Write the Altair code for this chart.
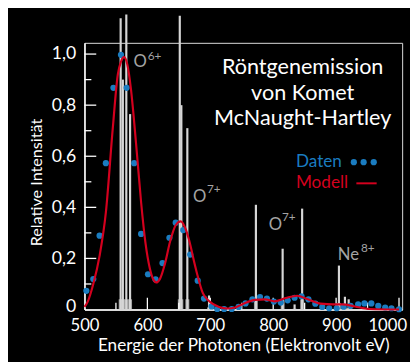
import altair as alt
import pandas as pd

# ---- data ----
data_E = [503, 514, 524, 534, 546, 558, 567, 579, 590, 601, 613, 624, 635, 645,
          657, 668, 680, 690, 702, 711, 722, 734, 745, 756, 767, 779, 790, 801,
          812, 823, 834, 845, 856, 867, 878, 889, 901, 912, 923, 935, 945, 956,
          967, 978, 988, 1000]
data_I = [0.073, 0.119, 0.289, 0.573, 0.868, 0.997, 0.868, 0.573, 0.296, 0.138,
          0.118, 0.182, 0.281, 0.340, 0.311, 0.215, 0.113, 0.043, 0.012, 0.002,
          0.002, 0.002, 0.010, 0.024, 0.040, 0.049, 0.043, 0.031, 0.027, 0.036,
          0.046, 0.052, 0.040, 0.023, 0.010, 0.005, 0.005, 0.011, 0.014, 0.020,
          0.024, 0.024, 0.014, 0.008, 0.005, 0.001]

model_E = [500, 505, 514, 524, 534, 545, 553, 558, 563, 568, 574, 582, 590, 597,
           604, 610, 614, 620, 628, 636, 645, 653, 660, 667, 674, 679, 688, 698,
           714, 727, 740, 750, 760, 771, 787, 802, 820, 838, 855, 875, 896, 910,
           930, 953, 1000]
model_I = [0.01, 0.03, 0.10, 0.21, 0.38, 0.71, 0.92, 0.97, 0.988, 0.96, 0.86,
           0.65, 0.42, 0.26, 0.16, 0.115, 0.106, 0.12, 0.18, 0.265, 0.33, 0.345,
           0.32, 0.265, 0.19, 0.14, 0.065, 0.033, 0.01, 0.004, 0.008, 0.02, 0.03,
           0.038, 0.04, 0.032, 0.045, 0.054, 0.04, 0.023, 0.02, 0.02, 0.012,
           0.002, 0.0]

line_E = [557.5, 561, 566.5, 572.5, 651.5, 654, 663.5, 698, 772.5, 815, 834,
          846, 904.5, 914, 920]
line_I = [1.14, 0.9, 1.155, 0.765, 1.15, 0.8, 0.71, 0.055, 0.41, 0.238, 0.02,
          0.395, 0.172, 0.05, 0.04]

x_labels = [500, 600, 700, 800, 900, 1000]
x_minor = [550, 650, 750, 850, 950]
y_labels = [0, 0.2, 0.4, 0.6, 0.8, 1.0]
y_minor = [0.1, 0.3, 0.5, 0.7, 0.9]
y_major = [0.2, 0.4, 0.6, 0.8, 1.0]

title_lines = ["Röntgenemission", "von Komet", "McNaught-Hartley"]

FONT = "Lato"
W, H = 324, 272
BLUE = "#1a7cc0"
RED = "#d4001e"
GRAY = "#a4a4a4"

xs = alt.Scale(domain=[500, 1005], nice=False, zero=False)
ys = alt.Scale(domain=[0, 1.044], nice=False, zero=True)

dots = pd.DataFrame({"E": data_E, "I": data_I})
model = pd.DataFrame({"E": model_E, "I": model_I})
lines = pd.DataFrame({"E": line_E, "I": line_I})
one = pd.DataFrame({"a": [0]})

x_axis = alt.Axis(values=x_labels, format="d", labelFontSize=17, labelColor="white",
                  labelFont=FONT, labelPadding=8, labelFlush=False, ticks=False, grid=False,
                  domainColor="white", domainWidth=1.5,
                  labelOffset={"condition": {"test": "datum.value === 1000", "value": -12}, "value": 0},
                  title="Energie der Photonen (Elektronvolt eV)", titleColor="white",
                  titleFont=FONT, titleFontSize=17.5, titleFontWeight="normal",
                  titleX=162, titleY=41.5, titleAlign="center", titleBaseline="alphabetic")
y_axis = alt.Axis(values=y_labels,
                  labelExpr="datum.value == 0 ? '0' : replace(format(datum.value, '.1f'), '.', ',')",
                  labelFontSize=18, labelColor="white", labelFont=FONT, labelPadding=9,
                  labelOffset={"condition": {"test": "datum.value === 0", "value": -3}, "value": 0},
                  labelFlush=False, ticks=False, grid=False, domainColor="white", domainWidth=1.5,
                  title="Relative Intensität", titleColor="white", titleFont=FONT,
                  titleFontSize=16.5, titleFontWeight="normal", titleAngle=270,
                  titleX=-44, titleY=142, titleAlign="center", titleBaseline="alphabetic")

base = alt.Chart(lines).transform_calculate(b="min(datum.I * 0.15, 0.04)")
spikes_base = base.mark_rule(color="#cfcfcf", strokeWidth=4, opacity=0.75).encode(
    x=alt.X("E:Q", scale=xs, axis=x_axis), y=alt.Y("b:Q", scale=ys, axis=y_axis), y2=alt.datum(0))
spikes = alt.Chart(lines).mark_rule(color="#d6d6d6", strokeWidth=2.2).encode(
    x=alt.X("E:Q", scale=xs), y=alt.Y("I:Q", scale=ys), y2=alt.datum(0))

ytick_major = alt.Chart(pd.DataFrame({"v": y_major})).mark_rule(color="white", strokeWidth=1.3).encode(
    y=alt.Y("v:Q", scale=ys), x=alt.value(0), x2=alt.value(12))
ytick_minor = alt.Chart(pd.DataFrame({"v": y_minor})).mark_rule(color="white", strokeWidth=1.3).encode(
    y=alt.Y("v:Q", scale=ys), x=alt.value(0), x2=alt.value(7))
xtick_major = alt.Chart(pd.DataFrame({"v": x_labels[1:]})).mark_rule(color="white", strokeWidth=1.3).encode(
    x=alt.X("v:Q", scale=xs), y=alt.value(H), y2=alt.value(H - 12))
xtick_minor = alt.Chart(pd.DataFrame({"v": x_minor})).mark_rule(color="white", strokeWidth=1.3).encode(
    x=alt.X("v:Q", scale=xs), y=alt.value(H), y2=alt.value(H - 7))

pts = alt.Chart(dots).mark_circle(color=BLUE, size=40, opacity=1).encode(
    x=alt.X("E:Q", scale=xs), y=alt.Y("I:Q", scale=ys))
curve = alt.Chart(model).mark_line(color=RED, strokeWidth=2.2, interpolate="monotone").encode(
    x=alt.X("E:Q", scale=xs), y=alt.Y("I:Q", scale=ys))


def txt(s, x, y, size, color, align="left"):
    return alt.Chart(one).mark_text(font=FONT, fontSize=size, color=color, align=align,
                                    baseline="alphabetic").encode(
        x=alt.value(x), y=alt.value(y), text=alt.value(s))


annos = [
    txt("O", 50, 25, 17, GRAY), txt("6+", 64.5, 17.3, 12, GRAY),
    txt("O", 110.7, 162.7, 17, GRAY), txt("7+", 125, 152.7, 12, GRAY),
    txt("O", 188, 190.7, 17, GRAY), txt("7+", 201.5, 181.7, 12, GRAY),
    txt("Ne", 258.3, 221.7, 17, GRAY), txt("8+", 282, 213, 12, GRAY),
    txt(title_lines[0], 222.5, 32.3, 22, "white", "center"),
    txt(title_lines[1], 222.5, 58.3, 22, "white", "center"),
    txt(title_lines[2], 222.5, 84.3, 22, "white", "center"),
    txt("Daten", 215.7, 126.7, 17.5, BLUE),
    txt("Modell", 215.7, 148.3, 17.5, RED),
]

leg_dots = [alt.Chart(one).mark_circle(color=BLUE, size=40, opacity=1).encode(
    x=alt.value(px), y=alt.value(121.7)) for px in (274.7, 284.7, 295)]
leg_line = alt.Chart(one).mark_rule(color=RED, strokeWidth=2).encode(
    x=alt.value(277.3), x2=alt.value(298), y=alt.value(143.3))

chart = alt.layer(
    spikes_base, spikes, ytick_major, ytick_minor, xtick_major, xtick_minor,
    pts, curve, *annos, *leg_dots, leg_line
).properties(
    width=W, height=H,
    autosize=alt.AutoSizeParams(type="none"),
    padding={"left": 78, "top": 32, "right": 8, "bottom": 50},
    background="black",
).configure_view(stroke=None).configure(font=FONT)

chart.save("out.html", embed_options={"renderer": "svg", "actions": False})
